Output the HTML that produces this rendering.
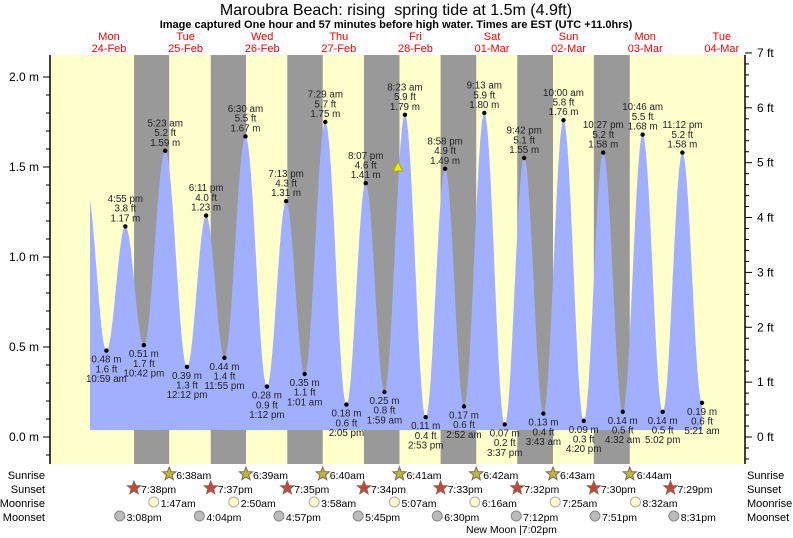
<!DOCTYPE html>
<html><head><meta charset="utf-8"><style>
body{margin:0;background:#fff;width:793px;height:538px;overflow:hidden}
svg{display:block;font-family:"Liberation Sans",sans-serif}
</style></head><body>
<svg id="s" width="793" height="538" xmlns="http://www.w3.org/2000/svg"></svg>
<script>
const S=document.getElementById('s');let o='';
const X=h=>71.3+3.196*h, Y=m=>437-180*m;
function T(s){const[a,b]=s.split(':');let hh=+a%12,mm=parseInt(b);if(/pm/.test(s))hh+=12;return hh+mm/60;}
o+=`<rect x="50" y="55" width="695" height="409" fill="#ffffcc"/>`;
const ss=['7:38pm','7:37pm','7:35pm','7:34pm','7:33pm','7:32pm','7:30pm','7:29pm'];
const sr=['6:38am','6:39am','6:40am','6:41am','6:42am','6:43am','6:44am'];
for(let d=0;d<7;d++){const a=X(d*24+T(ss[d])),b=X((d+1)*24+T(sr[d]));o+=`<rect x="${a}" y="55" width="${b-a}" height="409" fill="#999"/>`;}
const E=[[0,4.8,1.38],[0,'10:59am',.48],[0,'4:55pm',1.17],[0,'10:42pm',.51],[1,'5:23am',1.59],[1,'12:12pm',.39],[1,'6:11pm',1.23],[1,'11:55pm',.44],[2,'6:30am',1.67],[2,'1:12pm',.28],[2,'7:13pm',1.31],[3,'1:01am',.35],[3,'7:29am',1.75],[3,'2:05pm',.18],[3,'8:07pm',1.41],[4,'1:59am',.25],[4,'8:23am',1.79],[4,'2:53pm',.11],[4,'8:58pm',1.49],[5,'2:52am',.17],[5,'9:13am',1.80],[5,'3:37pm',.07],[5,'9:42pm',1.55],[6,'3:43am',.13],[6,'10:00am',1.76],[6,'4:20pm',.09],[6,'10:27pm',1.58],[7,'4:32am',.14],[7,'10:46am',1.68],[7,'5:02pm',.14],[7,'11:12pm',1.58],[8,'5:21am',.19]];
const P=E.map(e=>[e[0]*24+(typeof e[1]=='number'?e[1]:T(e[1])),e[2]]);
let pts=[];const h0=5.85,h1=197.35;
for(let h=h0;h<=h1;h+=0.1){let i=0;while(i<P.length-2&&P[i+1][0]<h)i++;const[a,ha]=P[i],[b,hb]=P[i+1];let f=Math.min(1,Math.max(0,(h-a)/(b-a)));const v=ha+(hb-ha)*(1-Math.cos(Math.PI*f))/2;pts.push(X(h).toFixed(1)+','+Y(v).toFixed(1));}
o+=`<polygon points="${X(h0)},430 ${pts.join(' ')} ${X(h1)},430" fill="#a0b0ff"/>`;
function ft(m){return (m*3.2808).toFixed(1)}
for(let k=1;k<E.length;k++){const e=E[k],x=X(P[k][0]),y=Y(e[2]);const t=e[1].replace(/(am|pm)/,' $1');
o+=`<circle cx="${x}" cy="${y}" r="2.2" fill="#000"/>`;
const hi=k>1&&e[2]>E[k-1][2];let L=hi?[t,ft(e[2])+' ft',e[2].toFixed(2)+' m']:[e[2].toFixed(2)+' m',ft(e[2])+' ft',t];
L.forEach((s,j)=>{const yy=hi?y-5-(2-j)*9.7:y+12+j*9.7;o+=`<text x="${x}" y="${yy}" font-size="9.8" text-anchor="middle" fill="#222">${s}</text>`;});}
o+=`<line x1="50" y1="55" x2="50" y2="464" stroke="#000" stroke-width="1.5"/><line x1="745" y1="55" x2="745" y2="464" stroke="#000" stroke-width="1.5"/>`;
for(let m=-0.1;m<=2.1;m+=0.1){const y=Y(m);const mj=Math.abs(Math.round(m*2)-m*2)<.01;o+=`<line x1="${mj?43:46}" y1="${y}" x2="50" y2="${y}" stroke="#000"/>`;if(mj)o+=`<text x="39" y="${y+4}" font-size="12" text-anchor="end">${Math.abs(m).toFixed(1)} m</text>`;}
for(let f=-0.4;f<=7.05;f+=0.2){const y=Y(f*0.3048);const mj=Math.abs(f-Math.round(f))<.01;o+=`<line x1="745" y1="${y}" x2="${mj?752:749}" y2="${y}" stroke="#000"/>`;if(mj)o+=`<text x="757" y="${y+4}" font-size="12">${Math.round(f)} ft</text>`;}
o+=`<text x="396" y="15" font-size="16" text-anchor="middle" xml:space="preserve">Maroubra Beach: rising&#160; spring tide at 1.5m (4.9ft)</text>`;
o+=`<text x="396" y="28" font-size="11" font-weight="bold" text-anchor="middle">Image captured One hour and 57 minutes before high water. Times are EST (UTC +11.0hrs)</text>`;
const dn=['Mon','Tue','Wed','Thu','Fri','Sat','Sun','Mon','Tue'],dd=['24-Feb','25-Feb','26-Feb','27-Feb','28-Feb','01-Mar','02-Mar','03-Mar','04-Mar'];
for(let i=0;i<9;i++){const x=109+i*76.6;o+=`<text x="${x}" y="40" font-size="11" fill="#f00" text-anchor="middle">${dn[i]}</text><text x="${x}" y="52" font-size="11" fill="#f00" text-anchor="middle">${dd[i]}</text>`;}
o+=`<polygon points="398,162 393,171 403,171" fill="#ee0" stroke="#aa0"/>`;
['Sunrise','Sunset','Moonrise','Moonset'].forEach((n,i)=>{const y=479+i*14;o+=`<text x="45" y="${y}" font-size="11" text-anchor="end">${n}</text><text x="747" y="${y}" font-size="11">${n}</text>`;});
function star(x,y,c){let p=[];for(let i=0;i<10;i++){const r=i%2?3:7,a=Math.PI/5*i-Math.PI/2;p.push((x+r*Math.cos(a)).toFixed(1)+','+(y+r*Math.sin(a)).toFixed(1));}return `<polygon points="${p}" fill="${c}" stroke="#865"/>`;}
sr.forEach((t,d)=>{const x=X((d+1)*24+T(t));o+=star(x,474,'#bb3')+`<text x="${x+7}" y="479" font-size="10.5">${t}</text>`;});
ss.forEach((t,d)=>{const x=X(d*24+T(t));o+=star(x,488,'#c43')+`<text x="${x+7}" y="493" font-size="10.5">${t}</text>`;});
['1:47am','2:50am','3:58am','5:07am','6:16am','7:25am','8:32am'].forEach((t,d)=>{const x=X((d+1)*24+T(t));o+=`<circle cx="${x}" cy="502" r="5" fill="#ffffcc" stroke="#aaa"/><text x="${x+7}" y="507" font-size="10.5">${t}</text>`;});
['3:08pm','4:04pm','4:57pm','5:45pm','6:30pm','7:12pm','7:51pm','8:31pm'].forEach((t,d)=>{const x=X(d*24+T(t));o+=`<circle cx="${x}" cy="516" r="5" fill="#bbb" stroke="#888"/><text x="${x+7}" y="521" font-size="10.5">${t}</text>`;});
o+=`<text x="466" y="533" font-size="10.5">New Moon |7:02pm</text>`;
S.innerHTML=o;
</script></body></html>
